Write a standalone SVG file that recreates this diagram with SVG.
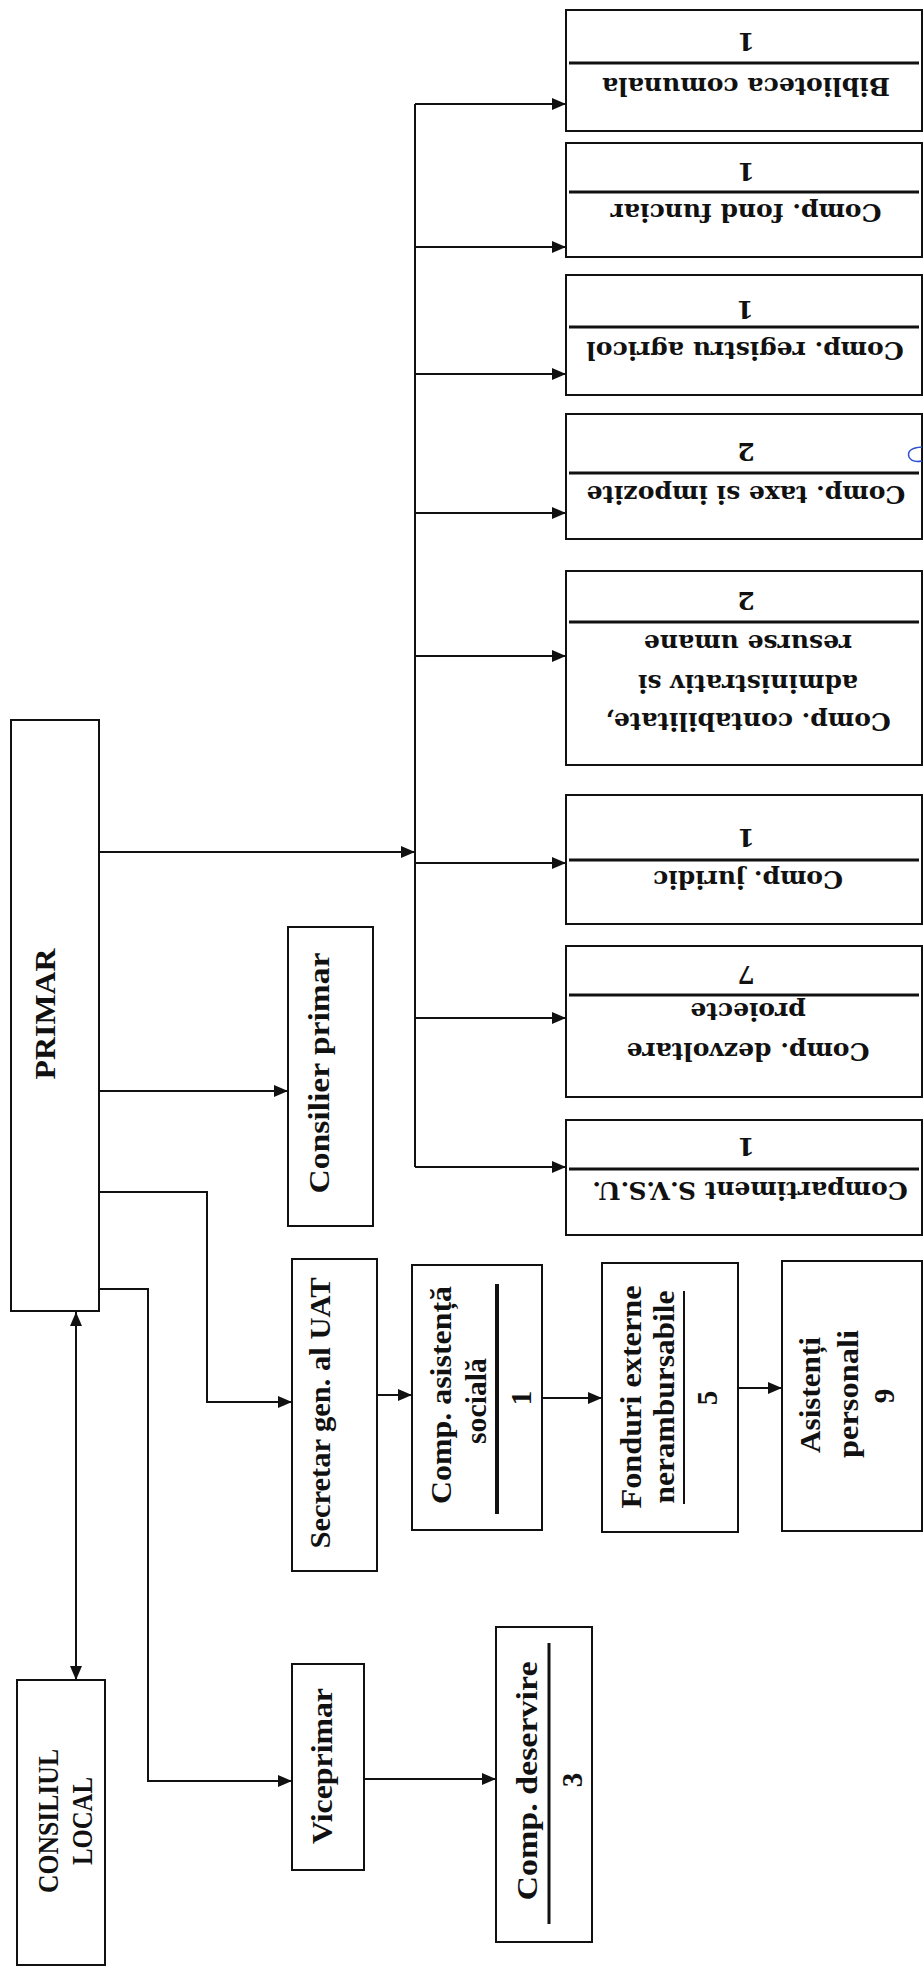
<svg xmlns="http://www.w3.org/2000/svg" width="924" height="1967" viewBox="0 0 924 1967">
<defs>
<style>
.box{fill:#fff;stroke:#111;stroke-width:2}
.ln{fill:none;stroke:#111;stroke-width:2}
.sep{stroke:#111;stroke-width:3}
.L{font-family:"Liberation Serif","Times New Roman",serif;font-weight:bold;font-size:29px;fill:#111;text-anchor:middle;dominant-baseline:central}
.R{font-family:"DejaVu Serif","Liberation Serif",serif;font-weight:bold;font-size:25px;fill:#111;text-anchor:middle;dominant-baseline:central}
</style>
<marker id="ah" markerWidth="14" markerHeight="12" refX="14" refY="6" orient="auto-start-reverse" markerUnits="userSpaceOnUse">
<path d="M0,0 L14,6 L0,12 z" fill="#111"/>
</marker>
</defs>
<rect width="924" height="1967" fill="#fff"/>

<g id="connectors">
<path class="ln" d="M100,852 H415" marker-end="url(#ah)"/>
<path class="ln" d="M415,104 V1167"/>
<path class="ln" d="M415,104 H566" marker-end="url(#ah)"/>
<path class="ln" d="M415,247 H566" marker-end="url(#ah)"/>
<path class="ln" d="M415,374 H566" marker-end="url(#ah)"/>
<path class="ln" d="M415,513 H566" marker-end="url(#ah)"/>
<path class="ln" d="M415,656 H566" marker-end="url(#ah)"/>
<path class="ln" d="M415,863 H566" marker-end="url(#ah)"/>
<path class="ln" d="M415,1018 H566" marker-end="url(#ah)"/>
<path class="ln" d="M415,1167 H566" marker-end="url(#ah)"/>
<path class="ln" d="M100,1091 H288" marker-end="url(#ah)"/>
<path class="ln" d="M100,1192 H207 V1402 H292" marker-end="url(#ah)"/>
<path class="ln" d="M100,1289 H148 V1781 H292" marker-end="url(#ah)"/>
<path class="ln" d="M76,1312 V1680" marker-start="url(#ah)" marker-end="url(#ah)"/>
<path class="ln" d="M377,1395 H412" marker-end="url(#ah)"/>
<path class="ln" d="M542,1398 H602" marker-end="url(#ah)"/>
<path class="ln" d="M738,1388 H782" marker-end="url(#ah)"/>
<path class="ln" d="M364,1779 H496" marker-end="url(#ah)"/>
</g>

<g id="primar">
<rect class="box" x="11" y="720" width="88" height="591"/>
<text class="L" transform="translate(45,1014) rotate(-90)" font-size="31" textLength="131" lengthAdjust="spacingAndGlyphs">PRIMAR</text>
</g>

<g id="consiliul-local">
<rect class="box" x="17" y="1680" width="88" height="285"/>
<text class="L" transform="translate(48,1821) rotate(-90)" font-size="26" textLength="144" lengthAdjust="spacingAndGlyphs">CONSILIUL</text>
<text class="L" transform="translate(82,1821) rotate(-90)" font-size="26" textLength="88" lengthAdjust="spacingAndGlyphs">LOCAL</text>
</g>

<g id="consilier-primar">
<rect class="box" x="288" y="927" width="85" height="299"/>
<text class="L" transform="translate(319,1073) rotate(-90)" textLength="241" lengthAdjust="spacingAndGlyphs">Consilier primar</text>
</g>

<g id="secretar">
<rect class="box" x="292" y="1259" width="85" height="312"/>
<text class="L" transform="translate(320,1413) rotate(-90)" textLength="271" lengthAdjust="spacingAndGlyphs">Secretar gen. al UAT</text>
</g>

<g id="viceprimar">
<rect class="box" x="292" y="1664" width="72" height="206"/>
<text class="L" transform="translate(322,1766) rotate(-90)" textLength="156" lengthAdjust="spacingAndGlyphs">Viceprimar</text>
</g>

<g id="comp-asistenta">
<rect class="box" x="412" y="1265" width="130" height="265"/>
<text class="L" transform="translate(441,1395) rotate(-90)" textLength="218" lengthAdjust="spacingAndGlyphs">Comp. asistență</text>
<text class="L" transform="translate(476,1401) rotate(-90)" textLength="86" lengthAdjust="spacingAndGlyphs">socială</text>
<line x1="497" y1="1284" x2="497" y2="1514" stroke="#111" stroke-width="4"/>
<text class="L" transform="translate(521,1398) rotate(-90)">1</text>
</g>

<g id="fonduri">
<rect class="box" x="602" y="1263" width="136" height="269"/>
<text class="L" transform="translate(631,1397) rotate(-90)" textLength="223" lengthAdjust="spacingAndGlyphs">Fonduri externe</text>
<text class="L" transform="translate(664,1397) rotate(-90)" textLength="213" lengthAdjust="spacingAndGlyphs">nerambursabile</text>
<line x1="684" y1="1291" x2="684" y2="1504" stroke="#111" stroke-width="2"/>
<text class="L" transform="translate(707,1398) rotate(-90)">5</text>
</g>

<g id="asistenti">
<rect class="box" x="782" y="1261" width="140" height="270"/>
<text class="L" transform="translate(810,1395) rotate(-90)" textLength="116" lengthAdjust="spacingAndGlyphs">Asistenți</text>
<text class="L" transform="translate(848,1394) rotate(-90)" textLength="128" lengthAdjust="spacingAndGlyphs">personali</text>
<text class="L" transform="translate(884,1396) rotate(-90)">9</text>
</g>

<g id="comp-deservire">
<rect class="box" x="496" y="1627" width="96" height="315"/>
<text class="L" transform="translate(527,1781) rotate(-90)" textLength="239" lengthAdjust="spacingAndGlyphs">Comp. deservire</text>
<line x1="549" y1="1643" x2="549" y2="1924" stroke="#111" stroke-width="3"/>
<text class="L" transform="translate(572,1780) rotate(-90)">3</text>
</g>

<g id="biblioteca">
<rect class="box" x="566" y="10" width="356" height="121"/>
<line class="sep" x1="569" y1="63" x2="919" y2="63"/>
<text class="R" transform="translate(746,86) rotate(180)">Biblioteca comunala</text>
<text class="R" transform="translate(746,41) rotate(180)">1</text>
</g>

<g id="fond-funciar">
<rect class="box" x="566" y="143" width="356" height="114"/>
<line class="sep" x1="569" y1="192" x2="919" y2="192"/>
<text class="R" transform="translate(746,212) rotate(180)">Comp. fond funciar</text>
<text class="R" transform="translate(746,171) rotate(180)" font-size="20">1</text>
</g>

<g id="registru-agricol">
<rect class="box" x="566" y="275" width="356" height="120"/>
<line class="sep" x1="569" y1="327" x2="919" y2="327"/>
<text class="R" transform="translate(745,350) rotate(180)">Comp. registru agricol</text>
<text class="R" transform="translate(745,309) rotate(180)">1</text>
</g>

<g id="taxe-impozite">
<rect class="box" x="566" y="414" width="356" height="125"/>
<line class="sep" x1="569" y1="473" x2="919" y2="473"/>
<text class="R" transform="translate(746,494) rotate(180)">Comp. taxe si impozite</text>
<text class="R" transform="translate(746,451) rotate(180)">2</text>
<path d="M922,447 Q906,448 909,457 Q912,463 922,461" fill="none" stroke="#2a4fd0" stroke-width="1.5"/>
</g>

<g id="contabilitate">
<rect class="box" x="566" y="571" width="356" height="194"/>
<line class="sep" x1="569" y1="622" x2="919" y2="622"/>
<text class="R" transform="translate(748,721) rotate(180)">Comp. contabilitate,</text>
<text class="R" transform="translate(748,683) rotate(180)">administrativ si</text>
<text class="R" transform="translate(748,643) rotate(180)">resurse umane</text>
<text class="R" transform="translate(746,600) rotate(180)">2</text>
</g>

<g id="juridic">
<rect class="box" x="566" y="795" width="356" height="129"/>
<line class="sep" x1="569" y1="860" x2="919" y2="860"/>
<text class="R" transform="translate(748,879) rotate(180)">Comp. juridic</text>
<text class="R" transform="translate(746,837) rotate(180)">1</text>
</g>

<g id="dezvoltare">
<rect class="box" x="566" y="946" width="356" height="151"/>
<line class="sep" x1="569" y1="995" x2="919" y2="995" stroke-width="2"/>
<text class="R" transform="translate(748,1051) rotate(180)">Comp. dezvoltare</text>
<text class="R" transform="translate(748,1011) rotate(180)">proiecte</text>
<text class="R" transform="translate(746,974) rotate(180)" font-weight="normal">7</text>
</g>

<g id="svsu">
<rect class="box" x="566" y="1120" width="356" height="115"/>
<line class="sep" x1="569" y1="1169" x2="919" y2="1169"/>
<text class="R" transform="translate(750,1190) rotate(180)">Compartiment S.V.S.U.</text>
<text class="R" transform="translate(746,1146) rotate(180)">1</text>
</g>
</svg>
